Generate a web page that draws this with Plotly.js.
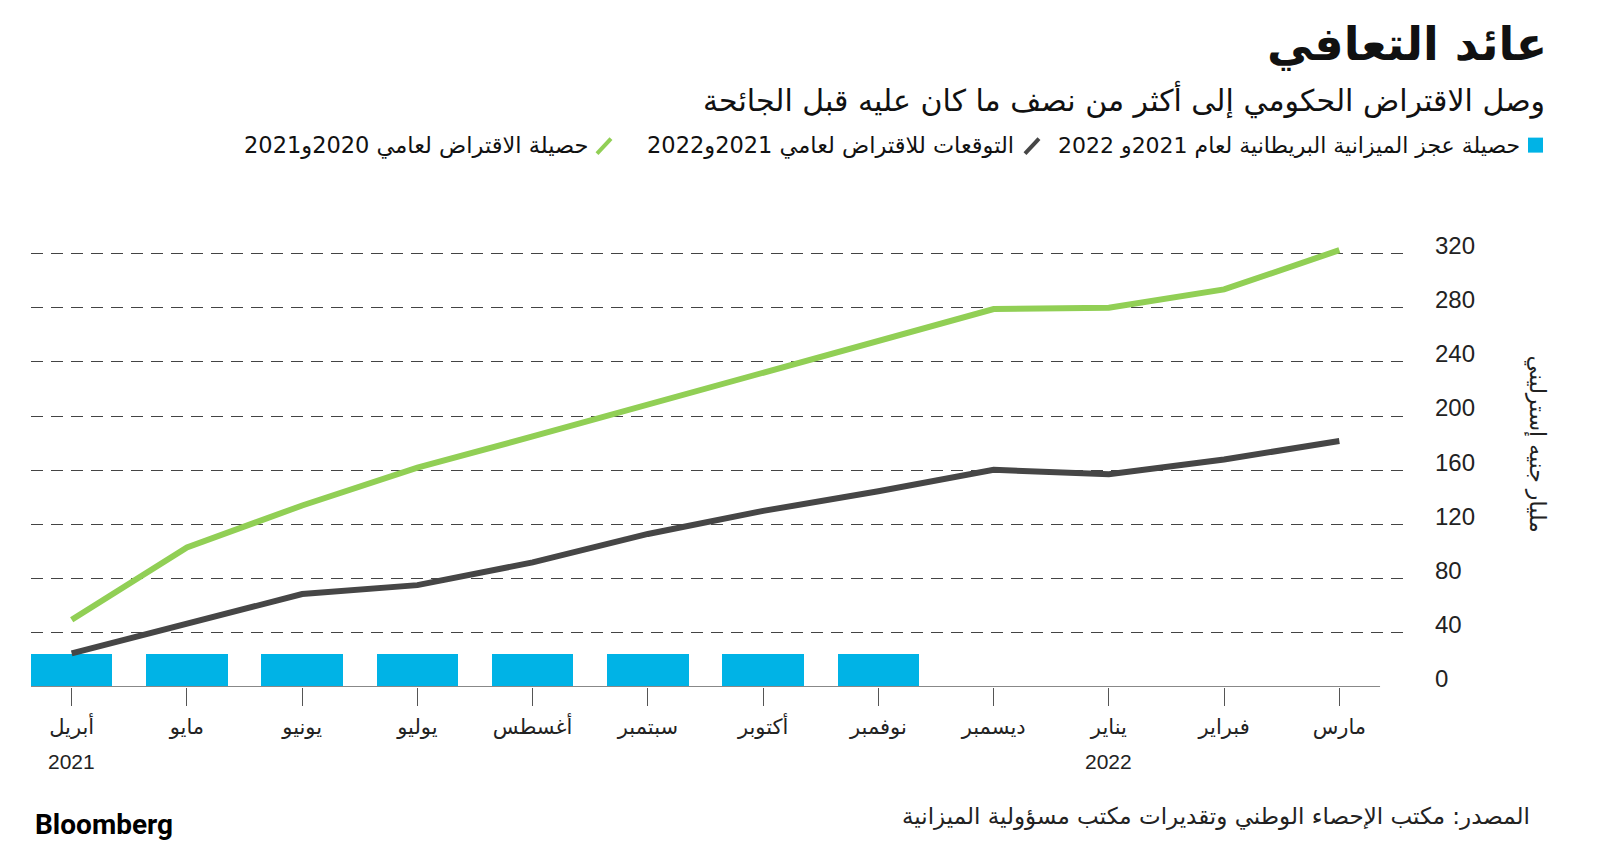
<!DOCTYPE html>
<html>
<head>
<meta charset="utf-8">
<script src="https://cdn.plot.ly/plotly-3.0.1.min.js"></script>
<style>
html,body{margin:0;padding:0;background:#fff;}
#chart{width:1600px;height:862px;}
</style>
</head>
<body>
<div id="chart"></div>
<script>
// ---- data ----
const months = ['أبريل','مايو','يونيو','يوليو','أغسطس','سبتمبر','أكتوبر','نوفمبر','ديسمبر','يناير','فبراير','مارس'];
const yearLabels = ['2021', '2022'];
const yearMonthIndex = [0, 9];
const deficitMonths = ['أبريل','مايو','يونيو','يوليو','أغسطس','سبتمبر','أكتوبر','نوفمبر'];
const deficitValues = [24.3, 24.3, 24.3, 24.3, 24.3, 24.3, 24.3, 24.3];
const forecastValues = [24.8, 46.5, 68.6, 75.2, 92, 113, 130, 144.5, 160.3, 157, 168, 181.6];
const borrowingValues = [49.6, 103, 134, 162, 185, 208.5, 232.5, 256.5, 279, 280, 293.5, 322.5];
const yTickValues = [0, 40, 80, 120, 160, 200, 240, 280, 320];

const seriesNames = [
  'حصيلة عجز الميزانية البريطانية لعام 2021و 2022',
  'التوقعات للاقتراض لعامي 2021و2022',
  'حصيلة الاقتراض لعامي 2020و2021'
];
const titleText = 'عائد التعافي';
const subtitleText = 'وصل الاقتراض الحكومي إلى أكثر من نصف ما كان عليه قبل الجائحة';
const sourceText = 'المصدر: مكتب الإحصاء الوطني وتقديرات مكتب مسؤولية الميزانية';
const yTitleText = 'مليار جنيه إسترليني';

// ---- layout geometry (pixels) ----
const W = 1600, H = 862;
const L = 31, R = 1410, T = 240.4, B = 687.5;
const px = x => (x - L) / (R - L);
const py = y => (B - y) / (B - T);

const FONT = 'DejaVu Sans, sans-serif';
const NUMFONT = 'Liberation Sans, Arial, sans-serif';
const BLUE = '#00b3e6', GREEN = '#91cf55', DARK = '#464646';

const traces = [
  {type:'bar', x: deficitMonths, y: deficitValues, name: seriesNames[0],
   marker:{color: BLUE}, width: 0.707, hoverinfo:'skip'},
  {type:'scatter', mode:'lines', x: months, y: forecastValues, name: seriesNames[1],
   line:{color: DARK, width: 6}, cliponaxis:false},
  {type:'scatter', mode:'lines', x: months, y: borrowingValues, name: seriesNames[2],
   line:{color: GREEN, width: 6}, cliponaxis:false}
];

const annotations = [
  {text:'<b>'+titleText+'</b>', xref:'paper', yref:'paper', x:px(1549), y:py(44), xanchor:'right', yanchor:'middle', showarrow:false, font:{family:FONT, size:46, color:'#111'}},
  {text:subtitleText, xref:'paper', yref:'paper', x:px(1547), y:py(100), xanchor:'right', yanchor:'middle', showarrow:false, font:{family:FONT, size:30, color:'#111'}},
  {text:seriesNames[0], xref:'paper', yref:'paper', x:px(1522), y:py(146), xanchor:'right', yanchor:'middle', showarrow:false, font:{family:FONT, size:22, color:'#111'}},
  {text:seriesNames[1], xref:'paper', yref:'paper', x:px(1016), y:py(146), xanchor:'right', yanchor:'middle', showarrow:false, font:{family:FONT, size:22.5, color:'#111'}},
  {text:seriesNames[2], xref:'paper', yref:'paper', x:px(590), y:py(146), xanchor:'right', yanchor:'middle', showarrow:false, font:{family:FONT, size:22.5, color:'#111'}},
  {text:sourceText, xref:'paper', yref:'paper', x:px(1532), y:py(817), xanchor:'right', yanchor:'middle', showarrow:false, font:{family:FONT, size:23, color:'#222'}},
  {text:'<b>Bloomberg</b>', xref:'paper', yref:'paper', x:px(33), y:py(825), xanchor:'left', yanchor:'middle', showarrow:false, font:{family:'Roboto, Liberation Sans, sans-serif', size:28, color:'#000'}},
  {text:yTitleText, xref:'paper', yref:'paper', x:px(1537), y:py(444), xanchor:'center', yanchor:'middle', textangle:90, showarrow:false, font:{family:FONT, size:22, color:'#222'}}
];
yearMonthIndex.forEach((mi, k) => {
  annotations.push({text: yearLabels[k], xref:'x', yref:'paper', x: months[mi], y: py(762), xanchor:'center', yanchor:'middle', showarrow:false, font:{family:NUMFONT, size:21, color:'#222'}});
});

const shapes = [
  // baseline
  {type:'line', xref:'x', yref:'y', x0:-0.353, x1:11.353, y0:0, y1:0, line:{color:'#888', width:2}, layer:'above'},
  // legend swatches
  {type:'rect', xref:'paper', yref:'paper', x0:px(1528), x1:px(1543), y0:py(153), y1:py(138), fillcolor:BLUE, line:{width:0}},
  {type:'line', xref:'paper', yref:'paper', x0:px(1025), x1:px(1039), y0:py(154), y1:py(139), line:{color:DARK, width:4}},
  {type:'line', xref:'paper', yref:'paper', x0:px(597), x1:px(611), y0:py(154), y1:py(139), line:{color:GREEN, width:4}}
];

const layout = {
  width: W, height: H,
  paper_bgcolor:'#fff', plot_bgcolor:'#fff',
  margin:{l:L, r:W-R, t:T, b:H-B, autoexpand:false},
  showlegend:false,
  bargap:0,
  xaxis:{
    type:'category', categoryorder:'array', categoryarray: months,
    range:[-0.353, 11.613], fixedrange:true,
    showgrid:false, zeroline:false, showline:false,
    ticks:'outside', ticklen:18, tickcolor:'#555', tickwidth:1,
    tickfont:{family:FONT, size:21, color:'#222'},
    ticklabelstandoff: 3
  },
  yaxis:{
    side:'right', range:[0, 330], fixedrange:true,
    tickvals: yTickValues, ticktext: yTickValues.map(String),
    showgrid:true, gridcolor:'#444', gridwidth:1, griddash:'12px,8px',
    zeroline:false, showline:false, ticks:'',
    tickfont:{family:NUMFONT, size:24, color:'#222'},
    ticklabelstandoff: 24, ticklabelshift: -8
  },
  annotations, shapes
};

Plotly.newPlot('chart', traces, layout, {displayModeBar:false, staticPlot:true});
</script>
</body>
</html>
